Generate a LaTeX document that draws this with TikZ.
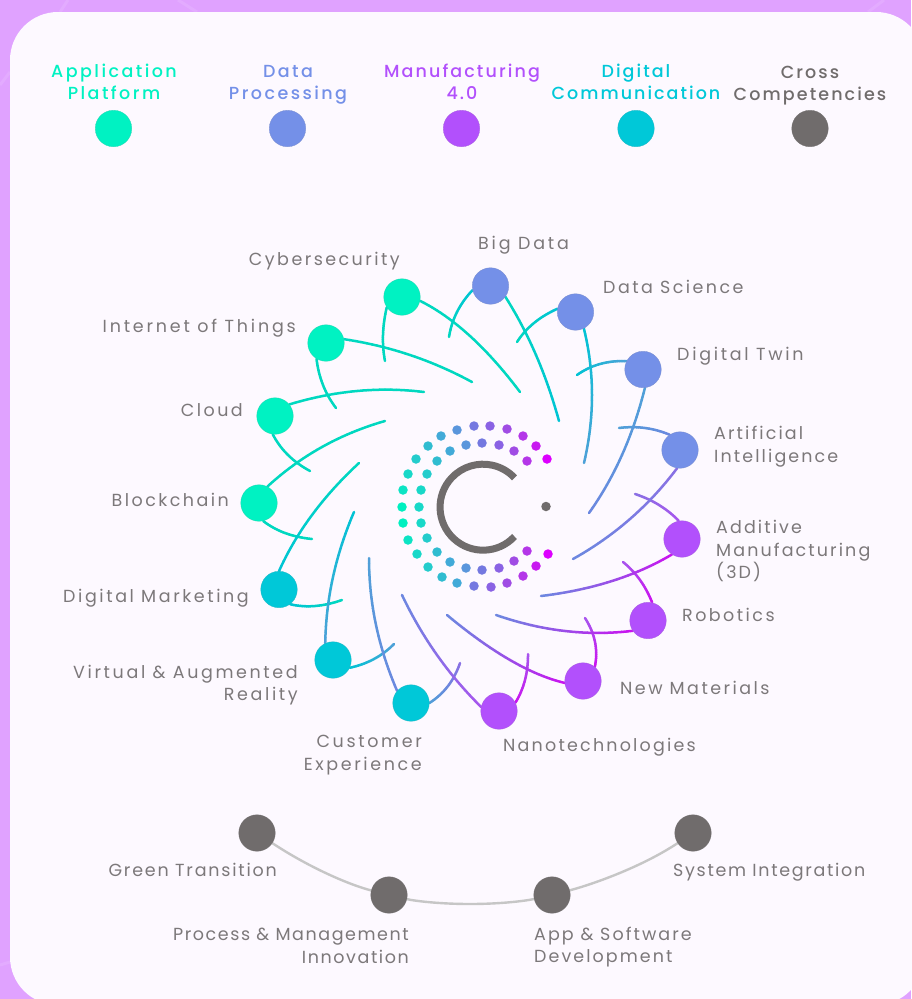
\documentclass[tikz,border=0pt]{standalone}
\usepackage{fontspec}
\setmainfont{Poppins}[LetterSpace=14]
\newfontfamily\headfont{Poppins Medium}[LetterSpace=14]
\usetikzlibrary{calc,backgrounds}
\definecolor{pagebg}{HTML}{E0A2FF}
\definecolor{panelbg}{HTML}{FDF9FF}
\definecolor{appc}{HTML}{00F2C2}
\definecolor{datac}{HTML}{7490E8}
\definecolor{mfgc}{HTML}{B250FC}
\definecolor{digc}{HTML}{00C8D8}
\definecolor{grayc}{HTML}{706C6C}
\definecolor{txtc}{HTML}{7C787A}
\definecolor{lteal}{HTML}{00D8C0}
\definecolor{lcyan}{HTML}{00C4D4}
\definecolor{lblue}{HTML}{4FA0D8}
\definecolor{lbv}{HTML}{6C88E0}
\definecolor{lviol}{HTML}{8A70E4}
\definecolor{lpurp}{HTML}{A855EE}
\definecolor{lmag}{HTML}{CC10F0}
\definecolor{dc0}{HTML}{DD00FF}\definecolor{dc1}{HTML}{C81AF0}\definecolor{dc2}{HTML}{B436E8}
\definecolor{dc3}{HTML}{A04CE4}\definecolor{dc4}{HTML}{8A62E4}\definecolor{dc5}{HTML}{7478E0}
\definecolor{dc6}{HTML}{5A96DC}\definecolor{dc7}{HTML}{42AAD8}\definecolor{dc8}{HTML}{30BCD0}
\definecolor{dc9}{HTML}{24CCCC}\definecolor{dc10}{HTML}{18D8C8}\definecolor{dc11}{HTML}{0CE4C4}
\definecolor{dc12}{HTML}{00F0C0}
\tikzset{
 bub/.style={circle,inner sep=0pt,minimum size=36.5pt,fill=#1,draw=#1!75!gray,line width=.3pt},
 lab/.style={text=txtc,font=\fontsize{17.5}{22.8}\selectfont\addfontfeature{LetterSpace=#1},inner sep=0pt},
 lab/.default=14,
 head/.style={text=#1,align=center,inner sep=0pt},
 hs/.style={font=\headfont\fontsize{17.5}{21.8}\selectfont\addfontfeature{LetterSpace=#1}},
 wire/.style={line width=2.5pt,line cap=round},
 dotc/.style={circle,inner sep=0pt,minimum size=9.5pt,fill=#1},
}
% gradient quadratic connector: start anchor, point passed half way, free end, colours at start and end
\newcommand\conn[5]{%
 \coordinate (cs) at (#1);
 \coordinate (ctl) at ($2*(#2)-0.5*(cs)-0.5*(#3)$);
 \foreach \i in {1,...,24}{%
  \pgfmathsetmacro\ta{(\i-1)/24}\pgfmathsetmacro\tb{\i/24}\pgfmathsetmacro\pc{100*(1-(\i-.5)/24)}%
  \colorlet{segc}{#4!\pc!#5}%
  \draw[wire,segc]
   ($($(cs)!\ta!(ctl)$)!\ta!($(ctl)!\ta!(#3)$)$) -- ($($(cs)!\tb!(ctl)$)!\tb!($(ctl)!\tb!(#3)$)$);
 }%
}
\begin{document}
\begin{tikzpicture}[x=1pt,y=-1pt]
\useasboundingbox (0,0) rectangle (911,999);
% legend
\node[head=appc,hs=14] (t1) at (114,82) {Application\\Platform};
\node[head=datac,hs=14] (t2) at (288,85) {Data\\Processing};
\node[head=mfgc,hs=12] (t3) at (462,82) {Manufacturing\\4.0};
\node[head=digc,hs=11.5] (t4) at (636,82) {Digital\\Communication};
\node[head=grayc,hs=12] (t5) at (810,86) {Cross\\Competencies};
\node[bub=appc] (k1) at (113.5,128.5) {};
\node[bub=datac] (k2) at (287.5,128.5) {};
\node[bub=mfgc] (k3) at (461.5,128.5) {};
\node[bub=digc] (k4) at (636,128.5) {};
\node[bub=grayc] (k5) at (810,128.5) {};
% wheel nodes
\node[bub=appc] (n1) at (402,297) {};
\node[bub=appc] (n2) at (326,343) {};
\node[bub=appc] (n3) at (275,416) {};
\node[bub=appc] (n4) at (259,503) {};
\node[bub=digc] (n5) at (279,589.5) {};
\node[bub=digc] (n6) at (333,660) {};
\node[bub=digc] (n7) at (411,703) {};
\node[bub=mfgc] (n8) at (499,711) {};
\node[bub=mfgc] (n9) at (583,681) {};
\node[bub=mfgc] (n10) at (648,620.5) {};
\node[bub=mfgc] (n11) at (682,539) {};
\node[bub=datac] (n12) at (680,450) {};
\node[bub=datac] (n13) at (643,369.5) {};
\node[bub=datac] (n14) at (575.5,312) {};
\node[bub=datac] (n15) at (490.5,286) {};
% labels
\node[lab=14,anchor=east] (l1) at (400,261.5) {Cybersecurity};
\node[lab=16,anchor=east] (l2) at (296,328) {Internet of Things};
\node[lab=14,anchor=east] (l3) at (243,410) {Cloud};
\node[lab=14,anchor=east] (l4) at (229,500) {Blockchain};
\node[lab=14.7,anchor=east] (l5) at (249,598.5) {Digital Marketing};
\node[lab=15,anchor=east,align=right] (l6) at (298,685) {Virtual \& Augmented\\Reality};
\node[lab=15,anchor=east,align=right] (l7) at (422,755) {Customer\\Experience};
\node[lab=12.6,anchor=west] (l8) at (503,747) {Nanotechnologies};
\node[lab=14,anchor=west] (l9) at (620,688) {New Materials};
\node[lab=14,anchor=west] (l10) at (682,615) {Robotics};
\node[lab=12,anchor=west,align=left] (l11) at (716,551) {Additive\\Manufacturing\\(3D)};
\node[lab=12,anchor=west,align=left] (l12) at (714,447) {Artificial\\Intelligence};
\node[lab=15.5,anchor=west] (l13) at (677,356.5) {Digital Twin};
\node[lab=14,anchor=west] (l14) at (603,287) {Data Science};
\node[lab=16,anchor=west] (l15) at (478,245) {Big Data};
% free ends and mid points of the connectors
\foreach \nm/\x/\y in {
 a1/520/392, am1/470/336, b1/385/361, bm1/383/335,
 a2/472/382, am2/410/355, b2/336/408, bm2/323/385,
 a3/424/392, am3/357/391, b3/310/471, bm3/288/455,
 a4/385/421, am4/322/447, b4/312/539, bm4/285/533,
 a5/359/463, am5/312/515, b5/342/600, bm5/315/606,
 a6/354/512, am6/333/577, b6/394/644, bm6/374/659,
 a7/369/558, am7/376/625, b7/460/663, bm7/448/686,
 a8/402/595, am8/437/655, b8/528/654, bm8/525/680,
 a9/447/615, am9/510/660, b9/585/618, bm9/595/642,
 a10/496/615, am10/565/631, b10/623/562, bm10/640/580,
 a11/541/596, am11/612/581, b11/635/494, bm11/659/505,
 a12/573/559, am12/630/519, b12/619/428, bm12/645/428,
 a13/589/513, am13/622/455, b13/577/375, bm13/600/364,
 a14/584/463, am14/592/395, b14/517/342, bm14/534/323,
 a15/559/421, am15/536/355, b15/449/337, bm15/457/312}
 {\coordinate (\nm) at (\x,\y);}
\begin{scope}[on background layer]
 \fill[pagebg] (0,0) rectangle (911,999);
 \draw[pagebg!90!white,line width=3pt] (60,12) -- (68,0) (178,0) -- (197,12) (868,12) -- (884,0) (0,85) -- (10,72) (0,965) -- (10,962);
 \fill[panelbg,rounded corners=48pt] (10,12) rectangle (924,1005);
 \conn{n1.348}{am1}{a1}{lteal}{lteal}\conn{n1.214}{bm1}{b1}{lteal}{lteal}
 \conn{n2.12}{am2}{a2}{lteal}{lteal}\conn{n2.239}{bm2}{b2}{lteal}{lteal}
 \conn{n3.39}{am3}{a3}{lteal}{lteal}\conn{n3.263}{bm3}{b3}{lteal}{lteal}
 \conn{n4.63}{am4}{a4}{lteal}{lteal}\conn{n4.283}{bm4}{b4}{lteal}{lteal}
 \conn{n5.90}{am5}{a5}{lcyan}{lteal}\conn{n5.307}{bm5}{b5}{lcyan}{lteal}
 \conn{n6.115}{am6}{a6}{lblue}{lcyan}\conn{n6.335}{bm6}{b6}{lcyan}{lblue}
 \conn{n7.139}{am7}{a7}{lbv}{lblue}\conn{n7.0}{bm7}{b7}{lblue}{lviol}
 \conn{n8.167}{am8}{a8}{lpurp}{lbv}\conn{n8.27}{bm8}{b8}{lmag}{lpurp}
 \conn{n9.186}{am9}{a9}{lmag}{lbv}\conn{n9.50}{bm9}{b9}{lmag}{lpurp}
 \conn{n10.214}{am10}{a10}{lmag}{lbv}\conn{n10.77}{bm10}{b10}{lmag}{lpurp}
 \conn{n11.237}{am11}{a11}{lmag}{lbv}\conn{n11.100}{bm11}{b11}{lpurp}{lviol}
 \conn{n12.261}{am12}{a12}{lviol}{lbv}\conn{n12.124}{bm12}{b12}{lbv}{lblue}
 \conn{n13.276}{am13}{a13}{lblue}{lbv}\conn{n13.153}{bm13}{b13}{lblue}{lcyan}
 \conn{n14.297}{am14}{a14}{lcyan}{lblue}\conn{n14.170}{bm14}{b14}{lcyan}{lteal}
 \conn{n15.324}{am15}{a15}{lteal}{lcyan}\conn{n15.193}{bm15}{b15}{lcyan}{lteal}
\end{scope}
% dots
\foreach \x/\y/\c in {547/459/0,536/446/1,523/436/2,507/429/3,490/426/4,474/426/5,457/430/6,441/436/7,428/446/8,416/459/9,408/474/10,403/490/11,402/507/12,403/523/12,408/540/11,417/554/10,428/567/9,442/577/8,457/583/7,474/586/5,491/587/4,507/583/3,523/576/2,536/566/1,548/554/0,
 527/461/2,514/451/3,499/445/4,482/443/5,466/445/6,450/451/7,437/461/8,427/474/9,421/490/10,419/507/10,421/523/10,427/538/9,437/552/8,450/562/7,466/568/6,482/570/5,499/568/4,514/561/3,527/551/2}
 {\node[dotc=dc\c] at (\x,\y) {};}
% logo
\draw[grayc,line width=7pt] (514.5,536.5) arc[start angle=43,end angle=317,radius=43];
\node[dotc=grayc] (logodot) at (546,506.5) {};
% bottom row
\node[bub=grayc] (g1) at (257,833) {};
\node[bub=grayc] (g2) at (389,895) {};
\node[bub=grayc] (g3) at (552,895) {};
\node[bub=grayc] (g4) at (693,833) {};
\coordinate (gmid) at (470,904);
\begin{scope}[on background layer]
 \draw[line width=2.4pt,color=gray!45] (g1) .. controls (310,868) and (350,885) .. (g2) .. controls (415,901) and (440,904) .. (gmid) .. controls (500,904) and (525,901) .. (g3) .. controls (590,885) and (640,868) .. (g4);
\end{scope}
\node[lab=10.2,anchor=east] (c1) at (277,870) {Green Transition};
\node[lab=9,anchor=east,align=right] (c2) at (409,946) {Process \& Management\\Innovation};
\node[lab=11.8,anchor=west,align=left] (c3) at (534,947) {App \& Software\\Development};
\node[lab=9.6,anchor=west] (c4) at (673,872) {System Integration};
\end{tikzpicture}
\end{document}
